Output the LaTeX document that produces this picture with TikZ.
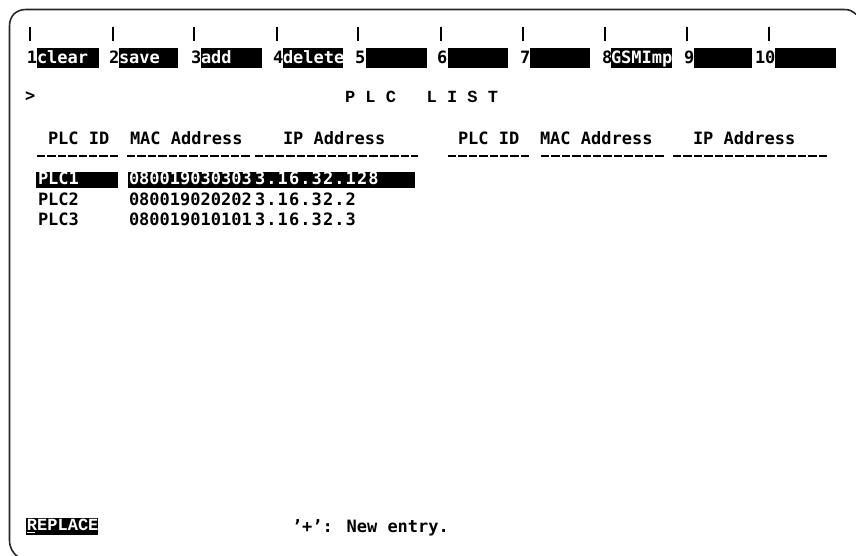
\documentclass[tikz,border=0pt]{standalone}
\usepackage{fontspec}
\newfontfamily\termfont{DejaVu Sans Mono}
\newfontfamily\ipfont[LetterSpace=6.5]{DejaVu Sans Mono}
\newfontfamily\sermono{Liberation Mono}
\begin{document}
\begin{tikzpicture}[x=1pt,y=-1pt,
  txt/.style={anchor=base west,inner sep=0pt,outer sep=0pt,font=\termfont\bfseries\fontsize{17}{20}\selectfont},
  iptxt/.style={txt,font=\ipfont\bfseries\fontsize{17}{20}\selectfont},
  sertxt/.style={anchor=base west,inner sep=0pt,outer sep=0pt,font=\sermono\bfseries\fontsize{17}{20}\selectfont},
  inv/.style={txt,text=white},
  hl/.style={fill=black,draw=none},
  keybar/.style={line width=2.8pt},
  rulerow/.style={line width=2pt,dash pattern=on 8.4pt off 2pt},
  screenframe/.style={line width=1.6pt,line cap=round,draw=black!85}]
\useasboundingbox (0,0) rectangle (856,556);

% screen frame
\draw[screenframe] (857,15) .. controls (852,11) and (850,9.5) .. (844,9.5)
  -- (26,9.5) .. controls (16,9.5) and (9.5,16) .. (9.5,26)
  -- (9.5,540) .. controls (9.5,548) and (13,553) .. (18,557);

% function keys
\foreach \n/\bx/\d/\a/\b/\lab in {1/30/27/37/99/clear,2/113/109/119/178/save,3/194/191/201/262/add,4/277/273/283/343/delete,5/358/355/366/427/{},6/441/437/448/508/{},7/523/520/530/590/{},8/605/602/611/672/GSMImp,9/687/684/694/752/{},10/769/755/775/836/{}}{
  \draw[keybar] (\bx,27) -- (\bx,41);
  \fill[hl] (\a,48) rectangle (\b,68);
  \node[txt] (kd\n) at (\d,64) {\n};
  \node[inv] (kl\n) at (\a,64) {\lab};
}

% prompt and title
\node[txt] (prompt) at (25,102) {>};
\node[sertxt] (title) at (345,103) {P L C~~~L I S T};

% headers
\node[txt] (h1) at (48,145) {PLC ID};
\node[txt] (h2) at (130,145) {MAC Address};
\node[txt] (h3) at (283,145) {IP Address};
\node[txt] (h4) at (458,145) {PLC ID};
\node[txt] (h5) at (540,145) {MAC Address};
\node[txt] (h6) at (693,145) {IP Address};

% header rules
\draw[rulerow] (37,156) -- (118,156);
\draw[rulerow] (127,156) -- (250,156);
\draw[rulerow] (255,156) -- (418,156);
\draw[rulerow] (448,156) -- (529,156);
\draw[rulerow] (541,156) -- (664,156);
\draw[rulerow] (673,156) -- (827,156);

% selected row
\fill[hl] (36,172) rectangle (118,188);
\fill[hl] (128,172) rectangle (251,188);
\fill[hl] (251,172) rectangle (415,188);
\node[inv] (r1a) at (38,185) {PLC1};
\node[inv] (r1b) at (129,185) {080019030303};
\node[iptxt,text=white] (r1c) at (255,185) {3.16.32.128};

% other rows
\node[txt] (r2a) at (38,205) {PLC2};
\node[txt] (r2b) at (129,205) {080019020202};
\node[iptxt] (r2c) at (255,205) {3.16.32.2};
\node[txt] (r3a) at (38,225) {PLC3};
\node[txt] (r3b) at (129,225) {080019010101};
\node[iptxt] (r3c) at (255,225) {3.16.32.3};

% bottom line
\fill[hl] (26,518) rectangle (98,535);
\node[sertxt,text=white] (mode) at (27,530) {REPLACE};
\draw[white,line width=1.4pt] (27,532.5) -- (35,532.5);
\node[txt] (hint) at (292,532) {’+’: New entry.};
\end{tikzpicture}
\end{document}
